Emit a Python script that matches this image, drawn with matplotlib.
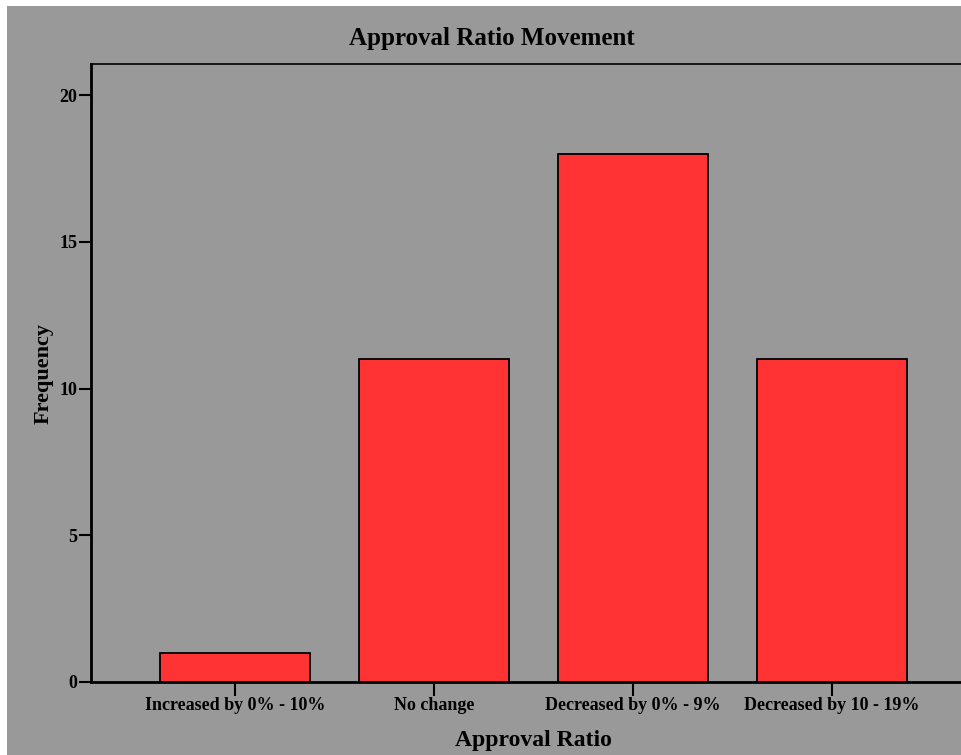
import matplotlib.pyplot as plt
from matplotlib.patches import Rectangle

categories = ['Increased by 0% - 10%', 'No change', 'Decreased by 0% - 9%', 'Decreased by 10 - 19%']
frequency = [1, 11, 18, 11]
yticks = [0, 5, 10, 15, 20]

W, H = 962, 755
fig = plt.figure(figsize=(W / 100, H / 100), dpi=100, facecolor='white')
# gray panel with a thin white strip on the left and top
fig.patches.append(Rectangle((7 / W, 0), 1, (H - 6) / H, transform=fig.transFigure,
                             facecolor='#999999', edgecolor='none', zorder=-1))

# axes run a bit past the right edge, as in the original
left, right, top, bottom = 91, 976, 64, 682
ax = fig.add_axes([left / W, (H - bottom) / H, (right - left) / W, (bottom - top) / H])
ax.set_facecolor('#999999')

x = list(range(len(categories)))
ax.bar(x, frequency, width=0.75, color='#FF3333', edgecolor='black', linewidth=1.3, zorder=2)

ax.set_xlim(-0.724, len(categories) - 1 + 0.724)
ax.set_ylim(0, 21.06)
ax.set_xticks(x)
ax.set_xticklabels(categories)
ax.set_yticks(yticks)

font = {'family': 'Liberation Serif', 'weight': 'bold'}
for lab in ax.get_xticklabels() + ax.get_yticklabels():
    lab.set_fontfamily('Liberation Serif')
    lab.set_fontweight('bold')
    lab.set_fontsize(13)

ax.tick_params(axis='x', length=10, width=1.5, pad=1)
ax.tick_params(axis='y', length=9, width=1.5, pad=1)
for s in ['left', 'bottom']:
    ax.spines[s].set_linewidth(2)
ax.spines['top'].set_linewidth(1.2)
ax.spines['right'].set_visible(False)

ax.set_xlabel('Approval Ratio', fontdict=font, fontsize=17, labelpad=11)
ax.set_ylabel('Frequency', fontdict=font, fontsize=16, labelpad=4)

fig.text(492 / W, 1 - 38 / H, 'Approval Ratio Movement', ha='center', va='center',
         fontdict=font, fontsize=18)

fig.savefig('out.png', dpi=100, facecolor=fig.get_facecolor())
